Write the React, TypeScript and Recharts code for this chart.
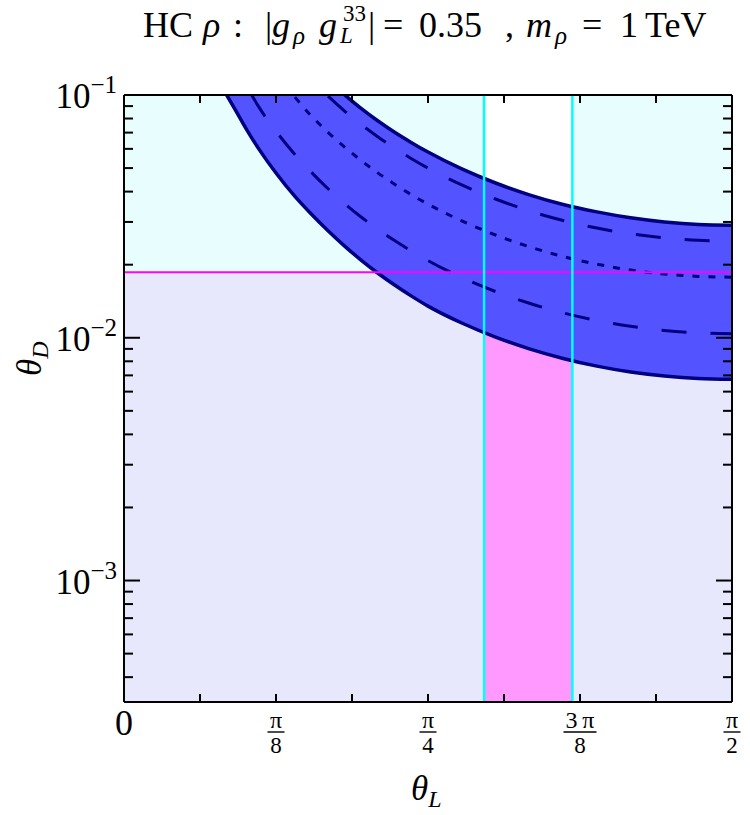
import React from "react";
import {
  ComposedChart,
  Area,
  Line,
  XAxis,
  YAxis,
  ReferenceArea,
  ReferenceLine,
} from "recharts";

// theta_L sample points (degrees) and theta_D
const thetaDeg = [15.2, 16.5, 18, 18.9, 20, 22.5, 25.3, 27.5, 30.2, 32.7, 35, 37.5, 40, 42.5, 45, 50, 55, 60, 65, 70, 75, 80, 85, 90];
const lowerEdge = [0.1, 0.0866, 0.0732, 0.0666, 0.0597, 0.0477, 0.0382, 0.0328, 0.0276, 0.0238, 0.021, 0.01853, 0.01653, 0.01488, 0.0135, 0.0115, 0.01006, 0.009, 0.00822, 0.00764, 0.00723, 0.00696, 0.0068, 0.00675];
const lowerDashed = [null, null, null, 0.1, 0.0889, 0.071, 0.0569, 0.0488, 0.0411, 0.0356, 0.0316, 0.0281, 0.0252, 0.0228, 0.0208, 0.0177, 0.0155, 0.01387, 0.01266, 0.01178, 0.01115, 0.01072, 0.01048, 0.0104];
const central = [null, null, null, null, null, null, 0.098, 0.0833, 0.0702, 0.0609, 0.054, 0.0479, 0.043, 0.0389, 0.0355, 0.0303, 0.0265, 0.0237, 0.0216, 0.0201, 0.019, 0.0183, 0.0179, 0.01776];
const upperDashed = [null, null, null, null, null, null, null, null, 0.099, 0.0857, 0.076, 0.0675, 0.0605, 0.0548, 0.05, 0.0426, 0.0373, 0.0333, 0.0304, 0.0283, 0.0268, 0.0258, 0.0252, 0.025];
const upperEdge = [null, null, null, null, null, null, null, null, null, 0.1, 0.0885, 0.0785, 0.0704, 0.0638, 0.0582, 0.0496, 0.0434, 0.0388, 0.0354, 0.033, 0.0312, 0.03, 0.0293, 0.0291];

// cyan bounds on theta_L (degrees), magenta bound on theta_D
const cyanDeg = [53.3, 66.37];
const magentaLevel = 0.0186;

// x ticks every pi/16
const xTickLabels = ["0", "", "π/8", "", "π/4", "", "3\u2009π/8", "", "π/2"];
const yTicks = [
  4e-4, 5e-4, 6e-4, 7e-4, 8e-4, 9e-4,
  1e-3, 2e-3, 3e-3, 4e-3, 5e-3, 6e-3, 7e-3, 8e-3, 9e-3,
  1e-2, 2e-2, 3e-2, 4e-2, 5e-2, 6e-2, 7e-2, 8e-2, 9e-2,
  1e-1,
];
const yMajor = [1e-3, 1e-2, 1e-1];
const yMajorLabels = ["−3", "−2", "−1"];

const Y_MIN = 3.16e-4;
const Y_MAX = 0.1;
const HALF_PI = Math.PI / 2;
const rad = (d: number) => (d * Math.PI) / 180;

const data = thetaDeg.map((d, i) => ({
  x: rad(d),
  lb: lowerEdge[i],
  ld: lowerDashed[i],
  c: central[i],
  ud: upperDashed[i],
  ub: upperEdge[i],
}));

const W = 750;
const H = 815;
const PLOT_L = 124;
const PLOT_R = 732;
const PLOT_T = 95;
const PLOT_B = 702;
const SERIF = "'Liberation Serif', 'Times New Roman', serif";
const NAVY = "#000080";

const xTickValues = xTickLabels.map((_, k) => (k * Math.PI) / 16);

function majorIndex(v: number) {
  return yMajor.findIndex((m) => Math.abs(v / m - 1) < 1e-6);
}

function BottomTick(props: any) {
  const { x, payload } = props;
  const k = Math.round(payload.value / (Math.PI / 16));
  const label = xTickLabels[k] || "";
  const [num, den] = label.split("/");
  const barW = num && num.length > 1 ? 33 : 17;
  return (
    <g>
      <line x1={x} x2={x} y1={PLOT_B} y2={PLOT_B - 8} stroke="#000" strokeWidth={2} />
      {label && !den && (
        <text x={x} y={PLOT_B + 33} textAnchor="middle" fontSize={36} fontFamily={SERIF} fill="#000">
          {num}
        </text>
      )}
      {den && (
        <g>
          <text x={x} y={PLOT_B + 26} textAnchor="middle" fontSize={24} fontFamily={SERIF} fill="#000">
            {num}
          </text>
          <line x1={x - barW / 2} x2={x + barW / 2} y1={PLOT_B + 30} y2={PLOT_B + 30} stroke="#000" strokeWidth={1.4} />
          <text x={x} y={PLOT_B + 51} textAnchor="middle" fontSize={23} fontFamily={SERIF} fill="#000">
            {den}
          </text>
        </g>
      )}
    </g>
  );
}

function TopTick(props: any) {
  const { x } = props;
  return <line x1={x} x2={x} y1={PLOT_T} y2={PLOT_T + 8} stroke="#000" strokeWidth={2} />;
}

function LeftTick(props: any) {
  const { y, payload } = props;
  const idx = majorIndex(payload.value);
  const major = idx >= 0;
  return (
    <g>
      <line x1={PLOT_L} x2={PLOT_L + (major ? 16 : 9)} y1={y} y2={y} stroke="#000" strokeWidth={2} />
      {major && (
        <text x={PLOT_L - 7} y={y + 13} textAnchor="end" fontSize={35} fontFamily={SERIF} fill="#000">
          10
          <tspan dy={-15} fontSize={25}>
            {yMajorLabels[idx]}
          </tspan>
        </text>
      )}
    </g>
  );
}

function RightTick(props: any) {
  const { y, payload } = props;
  const major = majorIndex(payload.value) >= 0;
  return <line x1={PLOT_R} x2={PLOT_R - (major ? 16 : 9)} y1={y} y2={y} stroke="#000" strokeWidth={2} />;
}

export default function App() {
  const axisLine = { stroke: "#000", strokeWidth: 2 };
  return (
    <div style={{ position: "absolute", left: 0, top: 0, width: W, height: H, background: "#fff" }}>
      <ComposedChart width={W} height={H} data={data} margin={{ top: 0, right: 0, bottom: 0, left: 0 }}>
        <XAxis
          xAxisId="b"
          dataKey="x"
          type="number"
          domain={[0, HALF_PI]}
          allowDataOverflow
          ticks={xTickValues}
          interval={0}
          height={H - PLOT_B}
          axisLine={axisLine}
          tickLine={false}
          tick={<BottomTick />}
        />
        <XAxis
          xAxisId="t"
          orientation="top"
          dataKey="x"
          type="number"
          domain={[0, HALF_PI]}
          allowDataOverflow
          ticks={xTickValues}
          interval={0}
          height={PLOT_T}
          axisLine={axisLine}
          tickLine={false}
          tick={<TopTick />}
        />
        <YAxis
          yAxisId="l"
          scale="log"
          type="number"
          domain={[Y_MIN, Y_MAX]}
          allowDataOverflow
          ticks={yTicks}
          interval={0}
          width={PLOT_L}
          axisLine={axisLine}
          tickLine={false}
          tick={<LeftTick />}
        />
        <YAxis
          yAxisId="r"
          orientation="right"
          scale="log"
          type="number"
          domain={[Y_MIN, Y_MAX]}
          allowDataOverflow
          ticks={yTicks}
          interval={0}
          width={W - PLOT_R}
          axisLine={axisLine}
          tickLine={false}
          tick={<RightTick />}
        />

        {/* excluded / allowed regions */}
        <ReferenceArea xAxisId="b" yAxisId="l" x1={0} x2={HALF_PI} y1={magentaLevel} y2={Y_MAX} fill="#e8fefe" fillOpacity={1} stroke="none" zIndex={-20} />
        <ReferenceArea xAxisId="b" yAxisId="l" x1={rad(cyanDeg[0])} x2={rad(cyanDeg[1])} y1={magentaLevel} y2={Y_MAX} fill="#ffffff" fillOpacity={1} stroke="none" zIndex={-19} />
        <ReferenceArea xAxisId="b" yAxisId="l" x1={0} x2={HALF_PI} y1={Y_MIN} y2={magentaLevel} fill="#e8e8fc" fillOpacity={1} stroke="none" zIndex={-18} />
        <ReferenceArea xAxisId="b" yAxisId="l" x1={rad(cyanDeg[0])} x2={rad(cyanDeg[1])} y1={Y_MIN} y2={magentaLevel} fill="#ff99ff" fillOpacity={1} stroke="none" zIndex={-17} />

        <Area
          xAxisId="b"
          yAxisId="l"
          type="monotone"
          dataKey={(d: any) => (d.lb == null ? null : [d.lb, d.ub ?? Y_MAX])}
          stroke="none"
          fill="#5353ff"
          fillOpacity={1}
          isAnimationActive={false}
          activeDot={false}
        />

        <ReferenceLine xAxisId="b" yAxisId="l" y={magentaLevel} stroke="#ff00ff" strokeWidth={2} zIndex={450} />

        <Line xAxisId="b" yAxisId="l" type="monotone" dataKey="ld" stroke={NAVY} strokeWidth={3} strokeDasharray="25 24" dot={false} isAnimationActive={false} />
        <Line xAxisId="b" yAxisId="l" type="monotone" dataKey="c" stroke={NAVY} strokeWidth={3} strokeDasharray="7 9" dot={false} isAnimationActive={false} />
        <Line xAxisId="b" yAxisId="l" type="monotone" dataKey="ud" stroke={NAVY} strokeWidth={3} strokeDasharray="25 24" dot={false} isAnimationActive={false} />
        <Line xAxisId="b" yAxisId="l" type="monotone" dataKey="lb" stroke={NAVY} strokeWidth={3.5} dot={false} isAnimationActive={false} />
        <Line xAxisId="b" yAxisId="l" type="monotone" dataKey="ub" stroke={NAVY} strokeWidth={3.5} dot={false} isAnimationActive={false} />

        <ReferenceLine xAxisId="b" yAxisId="l" x={rad(cyanDeg[0])} stroke="#00ffff" strokeWidth={2.5} zIndex={460} />
        <ReferenceLine xAxisId="b" yAxisId="l" x={rad(cyanDeg[1])} stroke="#00ffff" strokeWidth={2.5} zIndex={460} />
      </ComposedChart>

      <svg width={W} height={H} style={{ position: "absolute", left: 0, top: 0, pointerEvents: "none" }}>
        <text fontSize={36} fontFamily={SERIF} fill="#000">
          <tspan x={143} y={37}>HC</tspan>
          <tspan x={203} y={37} fontStyle="italic">ρ</tspan>
          <tspan x={233} y={37}>:</tspan>
          <tspan x={265} y={37}>|</tspan>
          <tspan x={272} y={37} fontStyle="italic">g</tspan>
          <tspan x={293} y={44} fontStyle="italic" fontSize={25}>ρ</tspan>
          <tspan x={319} y={37} fontStyle="italic">g</tspan>
          <tspan x={340} y={43} fontStyle="italic" fontSize={23}>L</tspan>
          <tspan x={343} y={21} fontSize={23}>33</tspan>
          <tspan x={368} y={37}>|</tspan>
          <tspan x={383} y={37}>=</tspan>
          <tspan x={419} y={37}>0.35</tspan>
          <tspan x={505} y={37}>,</tspan>
          <tspan x={526} y={37} fontStyle="italic">m</tspan>
          <tspan x={555} y={44} fontStyle="italic" fontSize={25}>ρ</tspan>
          <tspan x={582} y={37}>=</tspan>
          <tspan x={620} y={37}>1</tspan>
          <tspan x={645} y={37}>TeV</tspan>
        </text>

        <text x={411} y={800} fontSize={35} fontFamily={SERIF} fontStyle="italic" fill="#000">
          θ<tspan fontSize={24} dy={7}>L</tspan>
        </text>

        <text
          transform="translate(41,376) rotate(-90)"
          x={0}
          y={0}
          fontSize={35}
          fontFamily={SERIF}
          fontStyle="italic"
          fill="#000"
        >
          θ<tspan fontSize={24} dy={7}>D</tspan>
        </text>
      </svg>
    </div>
  );
}
